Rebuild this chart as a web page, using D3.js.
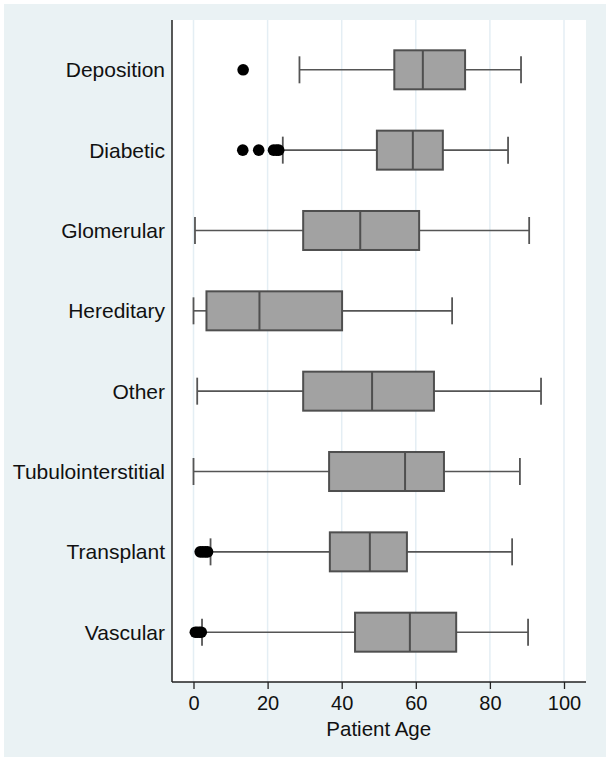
<!DOCTYPE html>
<html>
<head>
<meta charset="utf-8">
<script src="https://cdn.jsdelivr.net/npm/d3@7"></script>
<style>
  body { margin: 0; background: #ffffff; }
  svg { display: block; font-family: "Liberation Sans", Arial, Helvetica, sans-serif; }
</style>
</head>
<body>
<div id="chart"></div>
<script>
// data
const categories = ['Deposition', 'Diabetic', 'Glomerular', 'Hereditary', 'Other', 'Tubulointerstitial', 'Transplant', 'Vascular']
const whiskerLow = [28.6, 24.1, 0.4, 0.0, 1.0, 0.0, 4.6, 2.3]
const q1 = [54.2, 49.5, 29.6, 3.5, 29.6, 36.6, 36.8, 43.6]
const median = [61.9, 59.2, 45.0, 17.8, 48.2, 57.1, 47.6, 58.4]
const q3 = [73.3, 67.3, 60.9, 40.1, 64.9, 67.6, 57.6, 70.9]
const whiskerHigh = [88.4, 84.9, 90.6, 69.8, 93.8, 88.1, 86.0, 90.3]
const outliers = [
  [13.4],
  [13.3, 17.6, 21.6, 22.4, 23.0],
  [],
  [],
  [],
  [],
  [1.8, 2.5, 3.2, 3.8],
  [0.5, 1.0, 1.6, 2.1]
]
const xTicks = [0, 20, 40, 60, 80, 100]

const width = 610
const height = 762

const svg = d3.select('#chart')
  .append('svg')
  .attr('width', width)
  .attr('height', height)

// graph region
svg.append('rect')
  .attr('x', 4)
  .attr('y', 4)
  .attr('width', 602)
  .attr('height', 753)
  .attr('fill', '#eaf2f4')

// plot region
const plot = { left: 172, right: 586, top: 20, bottom: 682 }
svg.append('rect')
  .attr('x', plot.left)
  .attr('y', plot.top)
  .attr('width', plot.right - plot.left)
  .attr('height', plot.bottom - plot.top)
  .attr('fill', '#ffffff')

const x = d3.scaleLinear()
  .domain([0, 100])
  .range([193.5, 564])

const y = d3.scalePoint()
  .domain(categories)
  .range([plot.top, plot.bottom])
  .padding(0.62)

// gridlines
svg.append('g')
  .selectAll('line')
  .data(xTicks)
  .join('line')
  .attr('x1', d => x(d))
  .attr('x2', d => x(d))
  .attr('y1', plot.top)
  .attr('y2', plot.bottom)
  .attr('stroke', '#e4eef4')
  .attr('stroke-width', 1.5)

const rows = categories.map((c, i) => ({
  cat: c,
  lo: whiskerLow[i],
  q1: q1[i],
  med: median[i],
  q3: q3[i],
  hi: whiskerHigh[i],
  out: outliers[i]
}))

const boxH = 39
const capH = 27
const lineColour = '#555555'

const g = svg.append('g')
  .selectAll('g')
  .data(rows)
  .join('g')
  .attr('transform', d => `translate(0,${y(d.cat)})`)

// whiskers
g.append('line')
  .attr('x1', d => x(d.lo))
  .attr('x2', d => x(d.q1))
  .attr('stroke', lineColour)
  .attr('stroke-width', 1.6)
g.append('line')
  .attr('x1', d => x(d.q3))
  .attr('x2', d => x(d.hi))
  .attr('stroke', lineColour)
  .attr('stroke-width', 1.6)
g.selectAll('.cap')
  .data(d => [d.lo, d.hi])
  .join('line')
  .attr('class', 'cap')
  .attr('x1', v => x(v))
  .attr('x2', v => x(v))
  .attr('y1', -capH / 2)
  .attr('y2', capH / 2)
  .attr('stroke', lineColour)
  .attr('stroke-width', 1.8)

// boxes
g.append('rect')
  .attr('x', d => x(d.q1))
  .attr('y', -boxH / 2)
  .attr('width', d => x(d.q3) - x(d.q1))
  .attr('height', boxH)
  .attr('fill', '#a2a2a2')
  .attr('stroke', '#4f4f4f')
  .attr('stroke-width', 2)
g.append('line')
  .attr('x1', d => x(d.med))
  .attr('x2', d => x(d.med))
  .attr('y1', -boxH / 2)
  .attr('y2', boxH / 2)
  .attr('stroke', '#4f4f4f')
  .attr('stroke-width', 2)

// outside values
g.selectAll('circle')
  .data(d => d.out)
  .join('circle')
  .attr('cx', v => x(v))
  .attr('cy', 0)
  .attr('r', 5.8)
  .attr('fill', '#000000')

// category labels
svg.append('g')
  .selectAll('text')
  .data(categories)
  .join('text')
  .attr('x', 165)
  .attr('y', d => y(d))
  .attr('dy', '0.36em')
  .attr('text-anchor', 'end')
  .attr('font-size', 21)
  .attr('fill', '#111111')
  .text(d => d)

// y axis line
svg.append('line')
  .attr('x1', plot.left)
  .attr('x2', plot.left)
  .attr('y1', plot.top)
  .attr('y2', plot.bottom)
  .attr('stroke', '#222222')
  .attr('stroke-width', 1.5)

// x axis
const xAxis = svg.append('g')
  .attr('transform', `translate(0,${plot.bottom})`)
  .call(d3.axisBottom(x).tickValues(xTicks).tickSize(7).tickPadding(7).tickSizeOuter(0))

xAxis.select('.domain')
  .attr('d', `M${plot.left},0H${plot.right}`)
  .attr('stroke', '#222222')
  .attr('stroke-width', 1.5)
xAxis.selectAll('.tick line')
  .attr('stroke', '#222222')
  .attr('stroke-width', 1.3)
xAxis.selectAll('.tick text')
  .attr('font-size', 20)
  .attr('font-family', '"Liberation Sans", Arial, sans-serif')
  .attr('fill', '#111111')

svg.append('text')
  .attr('x', (x(0) + x(100)) / 2)
  .attr('y', 736)
  .attr('text-anchor', 'middle')
  .attr('font-size', 20.5)
  .attr('fill', '#111111')
  .text('Patient Age')
</script>
</body>
</html>
